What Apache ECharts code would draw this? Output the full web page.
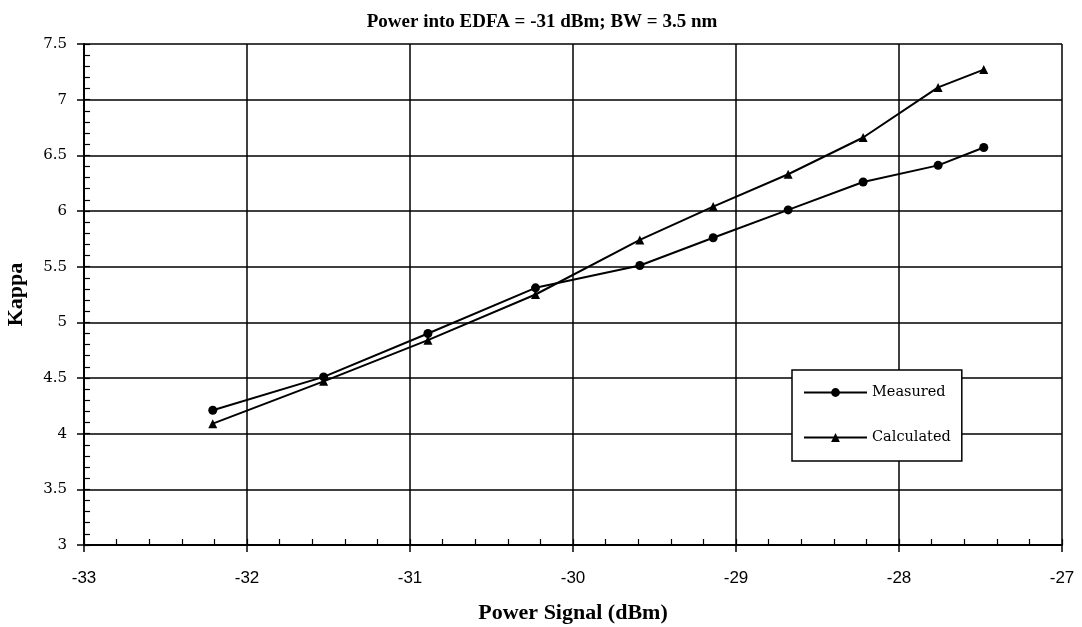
<!DOCTYPE html>
<html>
<head>
<meta charset="utf-8">
<script src="https://cdn.jsdelivr.net/npm/echarts@6.0.0/dist/echarts.min.js"></script>
<style>
  html, body { margin: 0; padding: 0; background: #fff; }
</style>
</head>
<body>
<div id="main" style="width: 1082px;height:627px;"></div>

<script type="text/javascript">
  // data
  var powerSignal = [-32.21, -31.53, -30.89, -30.23, -29.59, -29.14, -28.68, -28.22, -27.76, -27.48];
  var measured   = [4.21, 4.51, 4.90, 5.31, 5.51, 5.76, 6.01, 6.26, 6.41, 6.57];
  var calculated = [4.09, 4.47, 4.84, 5.25, 5.74, 6.04, 6.33, 6.66, 7.11, 7.27];

  function pairs(xs, ys) {
    var out = [];
    for (var i = 0; i < xs.length; i++) out.push([xs[i], ys[i]]);
    return out;
  }

  var serif = '"Liberation Serif", "DejaVu Serif", serif';
  var wideSerif = '"DejaVu Serif", "Liberation Serif", serif';
  var sans = '"Liberation Sans", Arial, sans-serif';

  var option = {
    animation: false,
    backgroundColor: '#fff',
    title: {
      text: 'Power into EDFA = -31 dBm; BW = 3.5 nm',
      left: 537,
      top: 8,
      textAlign: 'center',
      textStyle: { fontFamily: serif, fontWeight: 'bold', fontSize: 19, color: '#000' }
    },
    legend: {
      orient: 'vertical',
      left: 792,
      top: 370,
      padding: [15, 11, 16, 11],
      itemGap: 30,
      itemWidth: 63,
      itemHeight: 11,
      backgroundColor: '#fff',
      borderColor: '#000',
      borderWidth: 1.5,
      borderRadius: 0,
      textStyle: { fontFamily: wideSerif, fontSize: 14.5, color: '#000' },
      data: ['Measured', 'Calculated']
    },
    grid: {
      left: 84,
      right: 20,
      top: 44,
      bottom: 82,
      outerBoundsMode: 'none'
    },
    xAxis: [
      {
        type: 'value',
        min: -33,
        max: -27,
        interval: 1,
        position: 'bottom',
        name: 'Power Signal (dBm)',
        nameLocation: 'middle',
        nameGap: 57,
        nameTextStyle: { fontFamily: serif, fontWeight: 'bold', fontSize: 22, color: '#000' },
        axisLine: { lineStyle: { color: '#000', width: 2 } },
        axisTick: { show: true, length: 7, lineStyle: { color: '#000', width: 1.5 } },
        axisLabel: { margin: 25, fontFamily: sans, fontSize: 17, color: '#000' },
        splitLine: { show: true, lineStyle: { color: '#000', width: 1.5 } }
      },
      {
        // minor ticks, inside
        type: 'value',
        min: -33,
        max: -27,
        interval: 0.2,
        position: 'bottom',
        axisLine: { show: false },
        axisTick: { show: true, inside: true, length: 6, lineStyle: { color: '#000', width: 1.2 } },
        axisLabel: { show: false },
        splitLine: { show: false }
      }
    ],
    yAxis: [
      {
        type: 'value',
        min: 3,
        max: 7.5,
        interval: 0.5,
        position: 'left',
        name: 'Kappa',
        nameLocation: 'middle',
        nameGap: 57,
        nameRotate: 90,
        nameTextStyle: { fontFamily: serif, fontWeight: 'bold', fontSize: 22, color: '#000' },
        axisLine: { show: true, lineStyle: { color: '#000', width: 2 } },
        axisTick: { show: true, length: 7, lineStyle: { color: '#000', width: 1.5 } },
        axisLabel: { margin: 17, fontFamily: wideSerif, fontSize: 15, color: '#000' },
        splitLine: { show: true, lineStyle: { color: '#000', width: 1.5 } }
      },
      {
        type: 'value',
        min: 3,
        max: 7.5,
        interval: 0.1,
        position: 'left',
        axisLine: { show: false },
        axisTick: { show: true, inside: true, length: 6, lineStyle: { color: '#000', width: 1.2 } },
        axisLabel: { show: false },
        splitLine: { show: false }
      }
    ],
    series: [
      {
        name: 'Measured',
        type: 'line',
        xAxisIndex: 0,
        yAxisIndex: 0,
        symbol: 'circle',
        symbolSize: 9,
        itemStyle: { color: '#000' },
        lineStyle: { color: '#000', width: 2 },
        data: pairs(powerSignal, measured)
      },
      {
        name: 'Calculated',
        type: 'line',
        xAxisIndex: 0,
        yAxisIndex: 0,
        symbol: 'triangle',
        symbolSize: 9,
        itemStyle: { color: '#000' },
        lineStyle: { color: '#000', width: 2 },
        data: pairs(powerSignal, calculated)
      }
    ]
  };

  var myChart = echarts.init(document.getElementById('main'));
  myChart.setOption(option);
</script>
</body>
</html>
